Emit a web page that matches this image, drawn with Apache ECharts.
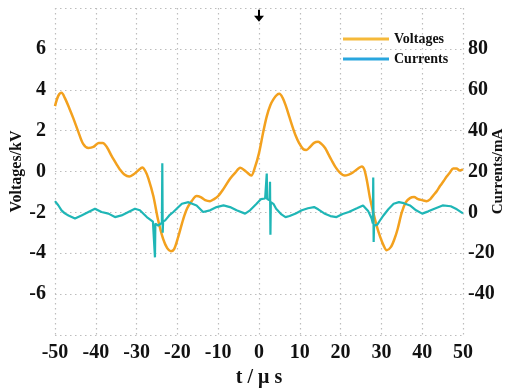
<!DOCTYPE html>
<html>
<head>
<meta charset="utf-8">
<script src="https://cdn.jsdelivr.net/npm/echarts@6/dist/echarts.min.js"></script>
<style>
  html, body { margin: 0; padding: 0; background: #fff; }
  #chart { width: 517px; height: 392px; }
</style>
</head>
<body>
<div id="chart"></div>
<script>
// voltage trace: time (us) and kV
const timeV = [-50, -49.2, -48.4, -47.6, -46.5, -45.5, -44.3, -43.1, -41.8, -40.6, -39.3, -38.3, -37.3, -36.1, -34.9, -34.1, -33, -31.8, -30.8, -29.6, -28.6, -27.8, -27.1, -25.9, -24.7, -23.5, -22.5, -21.6, -20.8, -19.8, -18.6, -17.6, -16.5, -15.3, -14.3, -13.2, -12, -11, -10, -8.7, -7.1, -5.8, -4.6, -3.2, -1.9, -1, 0, 1, 1.9, 2.8, 3.6, 4.4, 5, 5.8, 6.6, 7.4, 8.2, 9, 9.8, 10.8, 11.6, 12.5, 13.5, 14.5, 15.3, 16.2, 17, 17.8, 18.8, 19.8, 21, 22, 23, 24.3, 25.2, 25.8, 26.5, 27.2, 28, 28.9, 29.7, 30.5, 31.3, 32.3, 33.2, 34, 35, 36, 37, 38, 39, 40, 41.1, 42, 42.8, 43.6, 44.4, 45.3, 46, 46.8, 47.6, 48.4, 49.2, 50]
const voltage = [3.2, 3.7, 3.85, 3.6, 3.1, 2.6, 1.95, 1.35, 1.15, 1.2, 1.4, 1.4, 1.2, 0.75, 0.35, 0.1, -0.15, -0.25, -0.15, 0.05, 0.2, 0, -0.35, -1.2, -2.4, -3.3, -3.75, -3.9, -3.8, -3.2, -2.35, -1.8, -1.45, -1.2, -1.25, -1.4, -1.45, -1.35, -1.2, -0.85, -0.35, -0.05, 0.18, 0, -0.2, 0.2, 0.9, 1.9, 2.7, 3.25, 3.55, 3.75, 3.8, 3.6, 3.2, 2.7, 2.2, 1.75, 1.4, 1.1, 1.05, 1.2, 1.4, 1.45, 1.35, 1.15, 0.85, 0.55, 0.2, -0.05, -0.2, -0.15, -0.05, 0.15, 0.25, 0.1, -0.5, -1.3, -2, -2.7, -3.2, -3.6, -3.85, -3.7, -3.3, -2.8, -2, -1.5, -1.3, -1.25, -1.35, -1.4, -1.45, -1.35, -1.15, -0.95, -0.7, -0.45, -0.25, -0.05, 0.15, 0.15, 0.05, 0.1]

// current trace: time (us) and mA
const timeI = [-50, -49.2, -48.4, -47.6, -46.7, -45.1, -43.5, -41.8, -40.2, -38.6, -36.9, -35.3, -33.7, -32, -30.4, -29.2, -27.5, -26, -25.6, -25.5, -25.4, -24.7, -23.8, -23.7, -23.6, -23.5, -23, -22, -21, -19.8, -18.9, -17.3, -15.3, -13.7, -12, -10.4, -8.7, -7.1, -5.5, -3.4, -2.2, -0.6, 0.5, 1.5, 1.8, 1.9, 2, 2.6, 2.7, 2.8, 2.9, 3.6, 4.2, 5.5, 6.5, 7.5, 9, 10.5, 12, 13.5, 14.5, 16, 17.5, 19, 20.5, 22, 24, 25.5, 26.8, 27.6, 27.9, 28, 28.1, 28.2, 29, 29.8, 30.5, 31.7, 33, 34.3, 35.5, 37, 38.5, 40, 41.5, 43, 45, 47, 48.5, 50]
const current = [5.5, 3.5, 1, -0.5, -1.5, -3, -1.5, 0.2, 1.8, 0.2, -0.6, -2.3, -1.5, 0.2, 1.8, 1, -2.3, -4.5, -5.2, -22, -5.5, -6.5, -5, 24, -10, -4.5, -3.9, -1.5, 0.2, 2.5, 4.2, 5, 3.4, 0.2, 1, 2.6, 3.4, 2.6, 1, -0.6, 1, 4.2, 6.5, 6.8, 6.8, 19, 6.5, 6, 15, -11, 5, 4, 1.8, -1, -2.3, -1.8, -0.5, 1, 2, 2.6, 1.5, -0.5, -1.8, -2.3, -0.8, 0.2, 2, 3.4, 0.5, -3, -5.5, 17, -14.5, -6.5, -6, -3.5, -1.5, 1.5, 4.2, 5, 4.5, 3.4, 1, -0.6, 0.5, 1.8, 3.4, 3, 1.5, -0.5]

const triggerT = 0

const serif = 'Liberation Serif'
const orange = '#F3A11E'
const teal = '#1FB6B6'
const gridDots = { type: [1.5, 3.5], color: '#bdbdbd', width: 1.2 }

const chart = echarts.init(document.getElementById('chart'))

chart.setOption({
  animation: false,
  backgroundColor: '#fff',
  grid: { left: 55, right: 54, top: 8, bottom: 57, outerBoundsMode: 'none', containLabel: false },
  legend: {
    orient: 'vertical',
    left: 338,
    top: 27,
    icon: 'rect',
    itemWidth: 46,
    itemHeight: 3,
    itemGap: 6,
    textStyle: { fontFamily: serif, fontWeight: 'bold', fontSize: 14, color: '#111' },
    data: [
      { name: 'Voltages', itemStyle: { color: '#F5B93A' } },
      { name: 'Currents', itemStyle: { color: '#29A6DE' } }
    ]
  },
  xAxis: {
    type: 'value',
    min: -50,
    max: 50,
    interval: 10,
    name: 't / μ s',
    nameLocation: 'middle',
    nameGap: 32,
    nameTextStyle: { fontFamily: serif, fontWeight: 'bold', fontSize: 20, color: '#111' },
    axisLine: { show: false },
    axisTick: { show: false },
    axisLabel: { fontFamily: serif, fontWeight: 'bold', fontSize: 20, color: '#111', margin: 8 },
    splitLine: { lineStyle: gridDots }
  },
  yAxis: [
    {
      type: 'value',
      min: -8,
      max: 8,
      interval: 2,
      name: 'Voltages/kV',
      nameLocation: 'middle',
      nameRotate: 90,
      nameGap: 30,
      nameMoveOverlap: false,
      nameTextStyle: { fontFamily: serif, fontWeight: 'bold', fontSize: 16, color: '#111' },
      axisLine: { show: false },
      axisTick: { show: false },
      axisLabel: {
        fontFamily: serif, fontWeight: 'bold', fontSize: 20, color: '#111', margin: 9,
        formatter: v => (Math.abs(v) === 8 ? '' : v)
      },
      splitLine: { lineStyle: gridDots }
    },
    {
      type: 'value',
      min: -60,
      max: 100,
      interval: 20,
      name: 'Currents/mA',
      nameLocation: 'middle',
      nameRotate: 90,
      nameGap: 28,
      nameMoveOverlap: false,
      nameTextStyle: { fontFamily: serif, fontWeight: 'bold', fontSize: 15, color: '#111' },
      axisLine: { show: false },
      axisTick: { show: false },
      axisLabel: {
        fontFamily: serif, fontWeight: 'bold', fontSize: 20, color: '#111', margin: 5,
        formatter: v => (v === -60 || v === 100 ? '' : v)
      },
      splitLine: { show: false }
    }
  ],
  series: [
    {
      name: 'Voltages',
      type: 'line',
      yAxisIndex: 0,
      showSymbol: false,
      smooth: 0.3,
      color: orange,
      lineStyle: { width: 2.5, color: orange },
      data: timeV.map((t, i) => [t, voltage[i]]),
      markPoint: {
        symbol: 'path://M4,0 L6,0 L6,6 L10,6 L5,12 L0,6 L4,6 Z',
        symbolSize: [10, 12],
        itemStyle: { color: '#000' },
        label: { show: false },
        data: [{ coord: [triggerT, 7.62] }]
      }
    },
    {
      name: 'Currents',
      type: 'line',
      yAxisIndex: 1,
      showSymbol: false,
      color: teal,
      lineStyle: { width: 2.2, color: teal },
      data: timeI.map((t, i) => [t, current[i]])
    }
  ]
})
</script>
</body>
</html>
